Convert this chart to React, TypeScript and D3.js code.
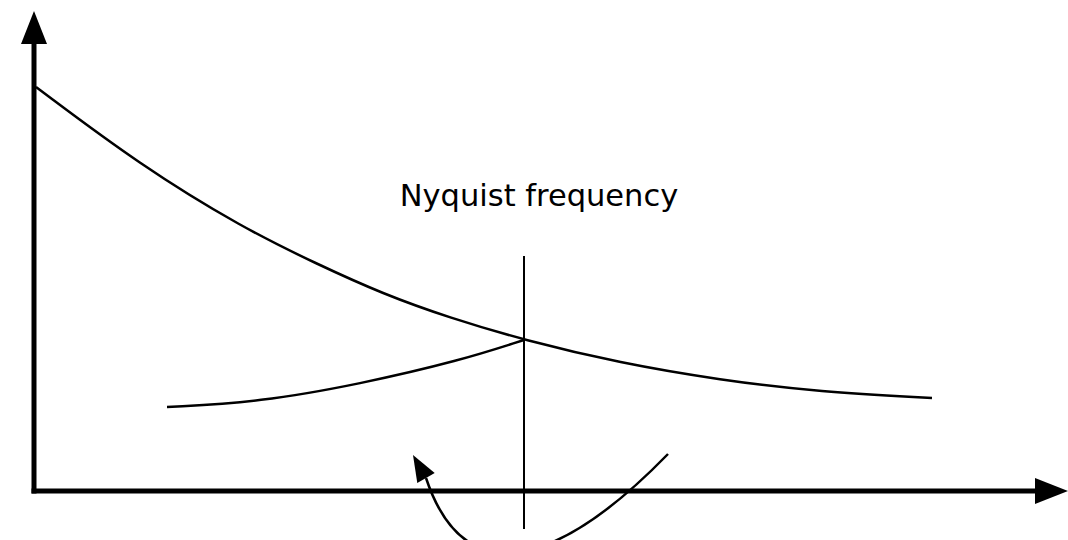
import React from "react";
import * as d3 from "d3";

// Data (abstract units: x = frequency, y = amplitude)
const decayX = [2, 106, 209, 283, 349, 416, 490, 586, 686, 786, 898];
const decayY = [101, 81.5, 65.75, 56.75, 49.25, 43.25, 37.75, 32, 27.75, 24.75, 23.25];

const aliasX = [133, 226, 326, 426, 490];
const aliasY = [21, 22.25, 26.75, 32.6, 37.75];

const nyquistX = 490;
const nyquistYRange = [-9.5, 58.75];
const nyquistLabel = "Nyquist frequency";
const labelPos = [505, 71.25];

// folding arrow: start, two control points, end, arrow tip
const foldX = [634, 526, 431, 392];
const foldY = [9.25, -18.5, -26, 3.25];
const foldTip = [379, 9];

const xMax = 1034;
const yMax = 120;

const W = 1068;
const H = 540;

export default function App() {
  const x = d3.scaleLinear().domain([0, xMax]).range([34, 1068]);
  const y = d3.scaleLinear().domain([0, 100]).range([491, 91]);

  const smooth = d3
    .line<[number, number]>()
    .x((d) => x(d[0]))
    .y((d) => y(d[1]))
    .curve(d3.curveBasis);

  const decay = decayX.map((v, i) => [v, decayY[i]] as [number, number]);
  const alias = aliasX.map((v, i) => [v, aliasY[i]] as [number, number]);

  const fp = d3.path();
  fp.moveTo(x(foldX[0]), y(foldY[0]));
  fp.bezierCurveTo(
    x(foldX[1]), y(foldY[1]),
    x(foldX[2]), y(foldY[2]),
    x(foldX[3]), y(foldY[3])
  );

  const x0 = x(0);
  const y0 = y(0);
  const yTop = y(yMax);
  const xEnd = x(xMax);
  const headLen = 33;
  const headHalf = 13;

  // fold arrowhead
  const bx = x(foldX[3]);
  const by = y(foldY[3]);
  const tx = x(foldTip[0]);
  const ty = y(foldTip[1]);
  const dx = tx - bx;
  const dy = ty - by;
  const len = Math.hypot(dx, dy);
  const nx = -dy / len;
  const ny = dx / len;
  const hw = 10;
  const foldHead = `${tx},${ty} ${bx + nx * hw},${by + ny * hw} ${bx - nx * hw},${by - ny * hw}`;

  return (
    <svg
      width={W}
      height={H}
      style={{ position: "absolute", left: 0, top: 0, display: "block", background: "#fff" }}
    >
      {/* axes */}
      <line x1={x0} y1={y0 + 2.5} x2={x0} y2={yTop + headLen} stroke="#000" strokeWidth={5} />
      <polygon
        points={`${x0},${yTop} ${x0 - headHalf},${yTop + headLen} ${x0 + headHalf},${yTop + headLen}`}
        fill="#000"
      />
      <line x1={x0 - 2.5} y1={y0} x2={xEnd - headLen} y2={y0} stroke="#000" strokeWidth={5} />
      <polygon
        points={`${xEnd},${y0} ${xEnd - headLen},${y0 - headHalf} ${xEnd - headLen},${y0 + headHalf}`}
        fill="#000"
      />

      {/* spectrum */}
      <path d={smooth(decay) || ""} fill="none" stroke="#000" strokeWidth={2.5} />
      <path d={smooth(alias) || ""} fill="none" stroke="#000" strokeWidth={2.5} />

      {/* Nyquist line */}
      <line
        x1={x(nyquistX)}
        x2={x(nyquistX)}
        y1={y(nyquistYRange[0])}
        y2={y(nyquistYRange[1])}
        stroke="#000"
        strokeWidth={2}
      />
      <text
        x={x(labelPos[0])}
        y={y(labelPos[1])}
        textAnchor="middle"
        fontFamily="DejaVu Sans, Verdana, sans-serif"
        fontSize={30.5}
        fill="#000"
      >
        {nyquistLabel}
      </text>

      {/* folding arrow */}
      <path d={fp.toString()} fill="none" stroke="#000" strokeWidth={2.5} />
      <polygon points={foldHead} fill="#000" />
    </svg>
  );
}
